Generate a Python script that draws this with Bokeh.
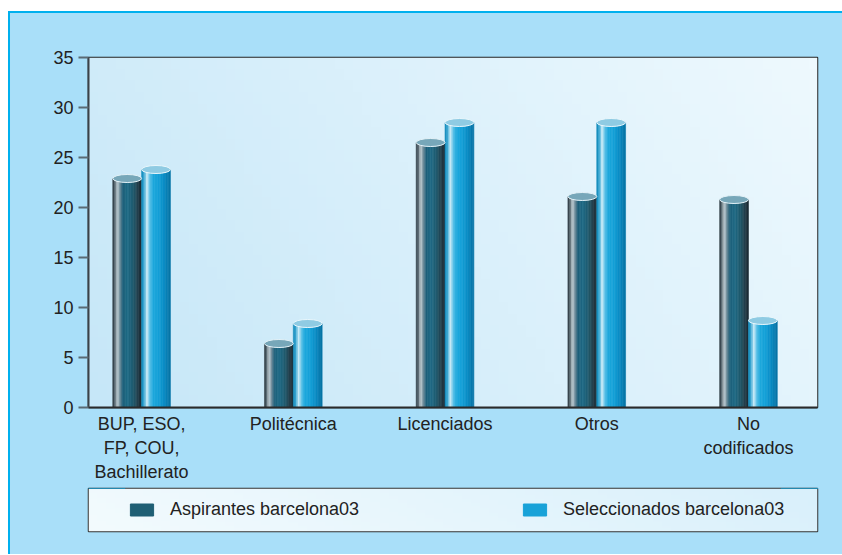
import numpy as np
from bokeh.plotting import figure
from bokeh.layouts import column
from bokeh.models import Range1d, FixedTicker, ColumnDataSource, Legend, LegendItem
from bokeh.embed import file_html
from bokeh.resources import INLINE

# ---- data ----
categories = ["BUP, ESO,\nFP, COU,\nBachillerato", "Politécnica", "Licenciados", "Otros", "No\ncodificados"]
aspirantes = [22.9, 6.4, 26.5, 21.1, 20.8]
seleccionados = [23.8, 8.4, 28.5, 28.5, 8.7]
series_names = ["Aspirantes barcelona03", "Seleccionados barcelona03"]
y_ticks = [0, 5, 10, 15, 20, 25, 30, 35]

# ---- style ----
FONT = "Liberation Sans"
OUTER = "#a9dff9"
EDGE = "2px solid #00b0ee"
BW = 0.19        # bar width in category units
OFF = 0.095      # half distance between the two bars of a group
NSTRIP = 18

dark_stops = [(0.0, "#26343b"), (0.08, "#56666e"), (0.17, "#c9d5db"), (0.26, "#6a8995"),
              (0.36, "#1f607a"), (0.52, "#1e6a85"), (0.72, "#205a6e"), (0.88, "#233f4b"), (1.0, "#1b2830")]
light_stops = [(0.0, "#0a84b6"), (0.1, "#3ba8d4"), (0.2, "#d2eff9"), (0.29, "#5cc1e7"),
               (0.4, "#1fa9dd"), (0.6, "#14a0d7"), (0.8, "#0a8bc3"), (1.0, "#0671a3")]


def hex2rgb(h):
    h = h.lstrip("#")
    return np.array([int(h[i:i + 2], 16) for i in (0, 2, 4)], dtype=float)


def color_at(stops, t):
    for (t0, c0), (t1, c1) in zip(stops[:-1], stops[1:]):
        if t0 <= t <= t1:
            f = (t - t0) / (t1 - t0) if t1 > t0 else 0
            c = hex2rgb(c0) * (1 - f) + hex2rgb(c1) * f
            return "#%02x%02x%02x" % tuple(int(round(v)) for v in c)
    return stops[-1][1]


def strips(values, offset, stops):
    xs, tops, cols = [], [], []
    for i, v in enumerate(values):
        for k in range(NSTRIP):
            t = (k + 0.5) / NSTRIP
            xs.append(i + offset - BW / 2 + t * BW)
            tops.append(v)
            cols.append(color_at(stops, t))
    return ColumnDataSource(dict(x=xs, top=tops, color=cols))


def gradient(ca, cb, wx, ny=30, nx=80):
    img = np.zeros((ny, nx), dtype=np.uint32)
    view = img.view(dtype=np.uint8).reshape((ny, nx, 4))
    a, b = hex2rgb(ca), hex2rgb(cb)
    for j in range(ny):
        for i in range(nx):
            t = wx * i / (nx - 1) + (1 - wx) * j / (ny - 1)
            view[j, i, 0:3] = (a * (1 - t) + b * t).astype(np.uint8)
            view[j, i, 3] = 255
    return img


p = figure(width=832, height=472,
           x_range=Range1d(-0.35, 4.455), y_range=Range1d(0, 35),
           output_backend="svg", toolbar_location=None,
           min_border_left=78, min_border_right=25, min_border_top=44, min_border_bottom=78)
p.border_fill_color = OUTER
p.outline_line_color = "#222222"
p.outline_line_width = 1.5
p.xgrid.visible = False
p.ygrid.visible = False

# background gradient of the plot area
p.image_rgba(image=[gradient("#c6e7f8", "#eef9fe", 0.75)], x=-0.35, y=0, dw=4.805, dh=35)

src_d = strips(aspirantes, -OFF, dark_stops)
src_l = strips(seleccionados, OFF, light_stops)
p.vbar(x="x", top="top", bottom=0, width=BW / NSTRIP, source=src_d,
       fill_color="color", line_color="color", line_width=0.6)
p.vbar(x="x", top="top", bottom=0, width=BW / NSTRIP, source=src_l,
       fill_color="color", line_color="color", line_width=0.6)

# cylinder tops
xd = [i - OFF for i in range(len(categories))]
xl = [i + OFF for i in range(len(categories))]
p.ellipse(x=xd, y=aspirantes, width=BW, height=8, height_units="screen",
          fill_color="#77a7b9", line_color="#e4f2f8", line_width=1)
p.ellipse(x=xl, y=seleccionados, width=BW, height=8, height_units="screen",
          fill_color="#8fcbe3", line_color="#eaf7fc", line_width=1)

# axes
p.xaxis.ticker = FixedTicker(ticks=list(range(len(categories))))
p.xaxis.major_label_overrides = {i: c for i, c in enumerate(categories)}
p.xaxis.major_tick_line_color = None
p.xaxis.major_tick_out = 0
p.xaxis.major_tick_in = 0
p.xaxis.minor_tick_line_color = None
p.xaxis.axis_line_color = "#2a2a2a"
p.xaxis.axis_line_width = 2
p.xaxis.major_label_standoff = 6

p.yaxis.ticker = FixedTicker(ticks=y_ticks)
p.yaxis.minor_tick_line_color = None
p.yaxis.major_tick_in = 0
p.yaxis.major_tick_out = 10
p.yaxis.major_tick_line_color = "#5a6a74"
p.yaxis.major_tick_line_width = 2
p.yaxis.axis_line_color = "#3a4248"
p.yaxis.axis_line_width = 2
p.yaxis.major_label_standoff = 5

for ax in (p.xaxis, p.yaxis):
    ax.major_label_text_font = FONT
    ax.major_label_text_font_size = "18px"
    ax.major_label_text_color = "#222222"

# ---- legend strip: a second figure whose frame is the legend box ----
p2 = figure(width=832, height=69, x_range=Range1d(0, 1), y_range=Range1d(-2, -1),
            output_backend="svg", toolbar_location=None,
            x_axis_location=None, y_axis_location=None,
            min_border_left=78, min_border_right=25, min_border_top=3, min_border_bottom=23)
p2.border_fill_color = None
p2.background_fill_color = "#e4f4fc"
p2.outline_line_color = "#333333"
p2.outline_line_width = 1.5
p2.xgrid.visible = False
p2.ygrid.visible = False
p2.image_rgba(image=[gradient("#f3fbfe", "#d9f0fb", 0.9)], x=0, y=-2, dw=1, dh=1)
# proxies for the legend swatches (bars lie outside this strip's y-range, so they stay hidden)
lg_d = p2.vbar(x=list(range(len(categories))), top=aspirantes, bottom=0, width=0.1,
               fill_color="#1f5f74", line_color="#1f5f74")
lg_l = p2.vbar(x=list(range(len(categories))), top=seleccionados, bottom=0, width=0.1,
               fill_color="#18a2d8", line_color="#18a2d8")

legend = Legend(items=[LegendItem(label=series_names[0], renderers=[lg_d]),
                       LegendItem(label=series_names[1], renderers=[lg_l])],
                orientation="horizontal", location=(39, 11), margin=0,
                padding=0, spacing=122, label_width=228,
                glyph_width=29, glyph_height=15, label_standoff=14,
                label_text_font=FONT, label_text_font_size="18px", label_text_color="#222222",
                border_line_color=None, background_fill_alpha=0.0)
p2.add_layout(legend)

layout = column(p, p2, spacing=0, margin=(11, 0, 0, 8),
                styles={"border-top": EDGE, "border-left": EDGE, "background-color": OUTER})
open("out.html", "w").write(file_html(layout, INLINE))
